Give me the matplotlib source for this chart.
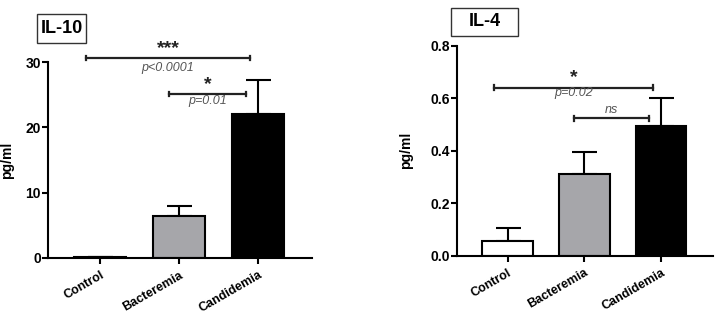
import numpy as np
import matplotlib
matplotlib.use("Agg")
import matplotlib.pyplot as plt
from matplotlib.patches import Rectangle

plt.rcParams["font.family"] = ["Liberation Sans", "DejaVu Sans"]

groups = ["Control", "Bacteremia", "Candidemia"]
colors = ["white", "#a6a6aa", "black"]

il10_mean = [0.15, 6.4, 22.1]
il10_err = [0.05, 1.6, 5.1]
il4_mean = [0.056, 0.312, 0.495]
il4_err = [0.051, 0.084, 0.105]

# comparisons: (i, j, height, star text, p text)
il10_tests = [(0, 2, 30.6, "***", "p<0.0001"), (1, 2, 25.1, "*", "p=0.01")]
il4_tests = [(0, 2, 0.641, "*", "p=0.02"), (1, 2, 0.523, "", "ns")]


def bracket(ax, x1, x2, y, star, ptxt, ymax, star_off, p_off):
    cap = ymax * 0.012
    ax.plot([x1, x2], [y, y], color="#222222", lw=1.6, clip_on=False)
    for xx in (x1, x2):
        ax.plot([xx, xx], [y - cap, y + cap], color="#222222", lw=1.6, clip_on=False)
    xm = (x1 + x2) / 2
    if star:
        ax.text(xm, y + star_off, star, ha="center", va="center", fontsize=14,
                fontweight="bold", color="#222222", clip_on=False)
    ax.text(xm, y + p_off, ptxt, ha="center", va="center", fontsize=9,
            style="italic", color="#555555", clip_on=False)


def draw(ax, means, errs, ymax, yticks, ylabels, tests, star_off, p_offs):
    x = np.arange(len(groups))
    ax.bar(x, means, width=0.66, color=colors, edgecolor="black", linewidth=1.5, zorder=2)
    ax.errorbar(x, means, yerr=[np.zeros(len(errs)), errs], fmt="none",
                ecolor="black", elinewidth=1.5, capsize=9, capthick=1.5, zorder=1)
    ax.set_ylim(0, ymax)
    ax.set_xlim(-0.66, 2.68)
    ax.set_yticks(yticks)
    ax.set_yticklabels(ylabels, fontsize=10, fontweight="bold")
    ax.set_xticks(x)
    ax.set_xticklabels(groups, rotation=30, ha="right", rotation_mode="anchor",
                       fontsize=9, fontweight="bold")
    ax.spines["top"].set_visible(False)
    ax.spines["right"].set_visible(False)
    ax.spines["left"].set_linewidth(1.5)
    ax.spines["bottom"].set_linewidth(1.5)
    ax.tick_params(axis="both", direction="out", width=1.5, length=4, pad=1)
    ax.tick_params(axis="x", pad=4)
    ax.set_ylabel("pg/ml", fontsize=10, fontweight="bold")
    for (i, j, h, s, p), po in zip(tests, p_offs):
        bracket(ax, i - 0.18 if i == 0 else i - 0.13, j - 0.1 if i == 0 else j - 0.16,
                h, s, p, ymax, star_off, po)


fig = plt.figure(figsize=(7.2, 3.18), dpi=100)

ax1 = fig.add_axes([0.0667, 0.189, 0.3667, 0.616])
draw(ax1, il10_mean, il10_err, 30, [0, 10, 20, 30], ["0", "10", "20", "30"],
     il10_tests, 1.4, [-1.5, -1.0])
ax1.yaxis.set_label_coords(-0.13, 0.5)

ax2 = fig.add_axes([0.6347, 0.196, 0.3556, 0.660])
draw(ax2, il4_mean, il4_err, 0.8, [0, 0.2, 0.4, 0.6, 0.8],
     ["0.0", "0.2", "0.4", "0.6", "0.8"], il4_tests, 0.036, [-0.022, 0.031])
ax2.yaxis.set_label_coords(-0.17, 0.5)

# title boxes (pixel extents from the reference)
for label, (x0, x1, y0, y1) in [("IL-10", (37, 86, 14, 43)), ("IL-4", (451, 518, 8, 36))]:
    fig.add_artist(Rectangle((x0 / 720, 1 - y1 / 318), (x1 - x0) / 720, (y1 - y0) / 318,
                             transform=fig.transFigure, facecolor="white",
                             edgecolor="#333333", linewidth=1))
    fig.text((x0 + x1) / 2 / 720, 1 - (y0 + y1) / 2 / 318, label, ha="center", va="center",
             fontsize=13, fontweight="bold")

fig.savefig("out.png", dpi=100)
